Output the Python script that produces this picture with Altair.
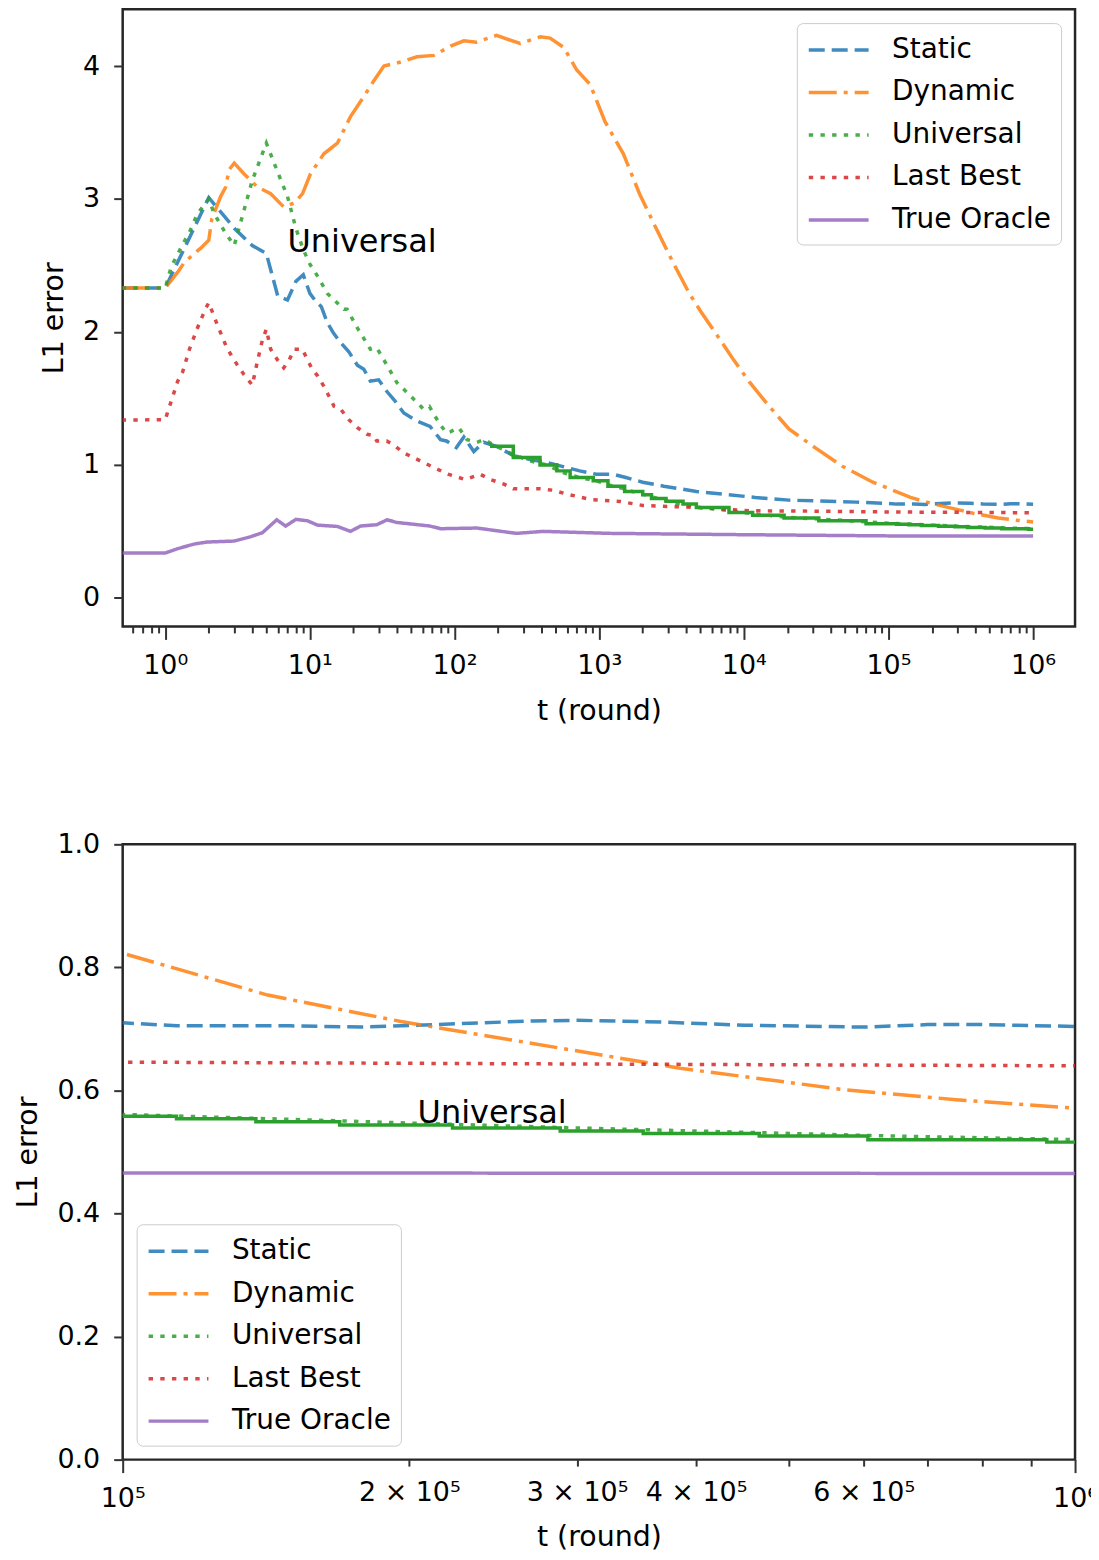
import altair as alt
import pandas as pd

# ---------------- data ----------------
SERIES = ["Static", "Dynamic", "Universal", "Last Best", "True Oracle"]
COLORS = ["#1f77b4", "#ff7f0e", "#2ca02c", "#d62728", "#9467bd"]
DASHES = [[16, 7], [28, 7, 4, 7], [4.4, 7.3], [4.4, 7.3], [1, 0]]
WIDTHS = [3.5, 3.5, 3.5, 3.5, 5]

STATIC = [(0.5, 2.33), (1, 2.33), (2, 3.01), (3, 2.78), (4, 2.65), (5, 2.59), (6, 2.27), (7, 2.24),
          (8, 2.38), (9, 2.43), (10, 2.29), (11, 2.23), (12, 2.19), (13.2, 2.07), (14.6, 1.99),
          (16.3, 1.92), (18.6, 1.85), (21.3, 1.75), (23.6, 1.72), (26.2, 1.63), (29.9, 1.64),
          (34.2, 1.55), (38.2, 1.49), (44.6, 1.39), (55, 1.33), (67.7, 1.29), (80, 1.19), (88, 1.18),
          (103, 1.13), (116, 1.21), (136, 1.10), (159, 1.17), (195, 1.14), (255, 1.07), (333, 1.04),
          (433, 1.02), (505, 1.00), (733, 0.955), (955, 0.93), (1250, 0.93), (1530, 0.905),
          (2000, 0.87), (2800, 0.84), (4700, 0.80), (7200, 0.78), (12000, 0.755), (20500, 0.735),
          (60000, 0.72), (1e5, 0.710), (1.14e5, 0.705), (1.5e5, 0.705), (1.78e5, 0.703),
          (2.12e5, 0.707), (2.7e5, 0.713), (3.0e5, 0.714), (3.7e5, 0.711), (4.5e5, 0.706),
          (6e5, 0.703), (7e5, 0.707), (8e5, 0.707), (1e6, 0.704)]

DYNAMIC = [(0.5, 2.33), (1, 2.33), (1.22, 2.45), (1.35, 2.52), (1.59, 2.59), (1.76, 2.63), (2, 2.69),
           (2.1, 2.85), (2.42, 3.02), (2.62, 3.09), (2.76, 3.22), (3, 3.27), (3.5, 3.19), (4.34, 3.09),
           (5.36, 3.04), (6.6, 2.94), (7.8, 2.97), (8.9, 3.04), (10.1, 3.19), (12.5, 3.34), (15.5, 3.42),
           (17.2, 3.52), (19.1, 3.62), (23.6, 3.77), (27.7, 3.89), (32.5, 4.00), (42.4, 4.03), (55, 4.07),
           (72, 4.08), (94, 4.15), (116, 4.19), (142, 4.18), (195, 4.23), (284, 4.17), (392, 4.22),
           (458, 4.21), (569, 4.14), (700, 3.97), (868, 3.86), (1100, 3.58), (1470, 3.34), (1900, 3.04),
           (2500, 2.77), (3250, 2.52), (4200, 2.29), (5000, 2.16), (6400, 1.99), (8500, 1.79),
           (11000, 1.62), (15000, 1.44), (20500, 1.27), (32000, 1.12), (48000, 0.99), (78000, 0.87),
           (1e5, 0.823), (1.42e5, 0.755), (1.96e5, 0.712), (3.17e5, 0.658), (3.85e5, 0.636),
           (5.74e5, 0.601), (7.5e5, 0.585), (1e6, 0.571)]

UNIVERSAL = [(0.5, 2.33), (1, 2.33), (1.1, 2.49), (1.28, 2.63), (1.5, 2.77), (1.67, 2.89), (2, 3.00),
             (2.18, 2.89), (2.62, 2.74), (3, 2.65), (4, 3.14), (5, 3.42), (6, 3.20), (7, 3.02), (8, 2.78),
             (9, 2.62), (10, 2.51), (11.3, 2.42), (13.2, 2.29), (17.2, 2.17), (18.1, 2.17), (21.3, 2.03),
             (26.2, 1.87), (29, 1.88), (33.3, 1.77), (39.9, 1.62), (49.5, 1.52), (61, 1.42), (67, 1.44),
             (72, 1.38), (80, 1.30), (88, 1.24), (94, 1.25), (107, 1.28), (122, 1.19), (143, 1.17),
             (160, 1.19), (195, 1.14), (241, 1.09), (268, 1.07), (333, 1.03), (433, 1.00), (569, 0.94),
             (733, 0.905), (955, 0.88), (1250, 0.84), (1530, 0.817), (1700, 0.80), (2500, 0.75),
             (3400, 0.71), (5000, 0.68), (8000, 0.655), (12000, 0.63), (20500, 0.605), (45000, 0.585),
             (1e5, 0.561), (1.5e5, 0.553), (2e5, 0.547), (3e5, 0.539), (4e5, 0.534), (6e5, 0.527),
             (8e5, 0.523), (1e6, 0.520)]

LAST_BEST = [(0.5, 1.337), (1, 1.34), (1.1, 1.48), (1.22, 1.63), (1.32, 1.70), (1.47, 1.87), (1.67, 2.03),
             (1.91, 2.18), (2, 2.22), (2.3, 2.05), (2.62, 1.90), (2.84, 1.83), (3.16, 1.75), (3.5, 1.68),
             (4, 1.60), (4.34, 1.78), (4.7, 1.94), (5, 2.02), (5.36, 1.87), (5.97, 1.79), (6.6, 1.73),
             (7.2, 1.79), (7.8, 1.87), (8.9, 1.87), (9.6, 1.79), (10.4, 1.72), (11.3, 1.67), (12.5, 1.59),
             (13.5, 1.52), (14.7, 1.44), (16.3, 1.42), (18.6, 1.34), (21.3, 1.28), (24.9, 1.23),
             (27.7, 1.22), (29, 1.18), (34, 1.18), (39, 1.14), (44.6, 1.09), (58, 1.03), (72, 0.98),
             (90, 0.93), (119, 0.89), (150, 0.93), (177, 0.89), (220, 0.855), (255, 0.82), (390, 0.82),
             (475, 0.81), (600, 0.78), (870, 0.74), (1400, 0.725), (2000, 0.695), (3400, 0.685),
             (4700, 0.68), (8000, 0.665), (11000, 0.655), (30000, 0.652), (1e5, 0.646), (3e5, 0.643),
             (1e6, 0.640)]

TRUE_ORACLE = [(0.5, 0.337), (1, 0.337), (1.22, 0.37), (1.59, 0.405), (1.96, 0.42), (3, 0.427),
               (3.9, 0.46), (4.7, 0.49), (5.9, 0.587), (6.8, 0.54), (8, 0.59), (9.6, 0.58), (11.3, 0.547),
               (15.5, 0.537), (19.1, 0.50), (22.4, 0.54), (29, 0.55), (34.2, 0.587), (39.9, 0.567),
               (67.7, 0.54), (80, 0.52), (143, 0.525), (195, 0.505), (268, 0.485), (410, 0.50),
               (1180, 0.485), (10000, 0.475), (1e5, 0.466), (1e6, 0.465)]

# solid green step line (no legend entry)
UNIVERSAL_STEP = [(176, 1.14), (255, 1.055), (390, 1.00), (510, 0.955), (630, 0.905), (910, 0.88),
                  (1150, 0.84), (1500, 0.80), (2000, 0.775), (2300, 0.747), (2900, 0.727), (3800, 0.705),
                  (4700, 0.68), (7900, 0.642), (11500, 0.622), (19000, 0.60), (33000, 0.58),
                  (70000, 0.558), (1.139e5, 0.554), (1.38e5, 0.549), (1.69e5, 0.544), (2.22e5, 0.539),
                  (2.88e5, 0.534), (3.52e5, 0.530), (4.66e5, 0.526), (6.06e5, 0.520), (9.34e5, 0.516),
                  (1e6, 0.516)]

ANNOT_TOP = [(7.0, 2.60, "Universal")]
ANNOT_BOTTOM = [(2.04e5, 0.547, "Universal")]

TOP_X_MAJOR = [1, 10, 100, 1000, 10000, 100000, 1000000]
TOP_X_LABELS = ["10⁰", "10¹", "10²", "10³", "10⁴", "10⁵", "10⁶"]
BOT_X_LABELED = [100000, 200000, 300000, 400000, 600000, 1000000]
BOT_X_LABELS = ["10⁵", "2 × 10⁵", "3 × 10⁵", "4 × 10⁵", "6 × 10⁵", "10⁶"]
BOT_X_MAJOR = [100000, 1000000]
TOP_Y_TICKS = [0, 1, 2, 3, 4]
BOT_Y_TICKS = [0.0, 0.2, 0.4, 0.6, 0.8, 1.0]

# ---------------- tables ----------------
rows = []
for name, pts in zip(SERIES, [STATIC, DYNAMIC, UNIVERSAL, LAST_BEST, TRUE_ORACLE]):
    for t, v in pts:
        rows.append({"t": t, "v": v, "series": name})
df = pd.DataFrame(rows)
df_step = pd.DataFrame(UNIVERSAL_STEP, columns=["t", "v"])

FONT = "DejaVu Sans"


def fmt(v):
    return repr(float(v))


def label_expr(vals, labels):
    parts = [f"datum.value == {fmt(v)} ? '{lab}'" for v, lab in zip(vals, labels)]
    return " : ".join(parts) + " : ''"


def major_test(vals):
    return " || ".join(f"datum.value == {fmt(v)}" for v in vals)


def minor_ticks(kmin, kmax, lo, hi):
    out = []
    for k in range(kmin, kmax + 1):
        for m in range(1, 10):
            val = round(m * 10.0 ** k, 6)
            if lo <= val <= hi:
                out.append(val)
    return out


def panel(xdomain, ydomain, xticks, xlab_vals, xlabs, xmajors, yticks, yfmt,
          legend_orient, h, annot, xtitle_pad):
    xaxis = alt.Axis(
        values=xticks, labelExpr=label_expr(xlab_vals, xlabs),
        tickSize={"condition": {"test": major_test(xmajors), "value": 13}, "value": 6.5},
        title="t (round)", labelFlush=False, labelOverlap=False, labelPadding=13,
        titlePadding=xtitle_pad,
    )
    yaxis = alt.Axis(values=yticks, format=yfmt, title="L1 error", tickSize=9,
                     labelPadding=14, titlePadding=14)
    x = alt.X("t:Q", scale=alt.Scale(type="log", domain=xdomain, nice=False), axis=xaxis)
    y = alt.Y("v:Q", scale=alt.Scale(domain=ydomain, nice=False, zero=False), axis=yaxis)
    leg = alt.Legend(orient=legend_orient, offset=14, title=None)
    lines = alt.Chart(df).mark_line(clip=True, opacity=0.85).encode(
        x=x, y=y,
        color=alt.Color("series:N", scale=alt.Scale(domain=SERIES, range=COLORS), legend=leg),
        strokeDash=alt.StrokeDash("series:N", scale=alt.Scale(domain=SERIES, range=DASHES), legend=leg),
        strokeWidth=alt.StrokeWidth("series:N", scale=alt.Scale(domain=SERIES, range=WIDTHS), legend=leg),
    )
    step = alt.Chart(df_step).mark_line(clip=True, interpolate="step-after", color="#2ca02c",
                                        strokeWidth=3.5).encode(x=x, y=y)
    adf = pd.DataFrame(annot, columns=["t", "v", "label"])
    text = alt.Chart(adf).mark_text(align="left", baseline="alphabetic", fontSize=32, font=FONT,
                                    color="#000000").encode(x=x, y=y, text="label:N")
    return alt.layer(lines, step, text).properties(width=955, height=h)


top = panel([0.508, 1.95e6], [-0.215, 4.428],
            TOP_X_MAJOR + minor_ticks(-1, 5, 0.508, 1.95e6), TOP_X_MAJOR, TOP_X_LABELS, TOP_X_MAJOR,
            TOP_Y_TICKS, "d", "top-right", 619, ANNOT_TOP, 18)
bottom = panel([1e5, 1e6], [0, 1],
               sorted(set(minor_ticks(5, 6, 1e5, 1e6))), BOT_X_LABELED, BOT_X_LABELS, BOT_X_MAJOR,
               BOT_Y_TICKS, ".1f", "bottom-left", 617, ANNOT_BOTTOM, 11)

chart = alt.vconcat(top, bottom, spacing=102.5).resolve_scale(
    x="independent", y="independent", color="independent",
    strokeDash="independent", strokeWidth="independent",
).properties(
    padding={"left": 4, "top": -3, "right": -8, "bottom": 0}
).configure(font=FONT).configure_view(
    stroke="#262626", strokeWidth=2.5
).configure_axis(
    labelFont=FONT, titleFont=FONT, labelFontSize=27, titleFontSize=28.5, labelColor="#000000",
    titleColor="#000000", titleFontWeight="normal", tickColor="#333333", tickWidth=2,
    domain=False, grid=False,
).configure_legend(
    labelFont=FONT, labelFontSize=28, labelColor="#000000", symbolType="M-1,0H3", symbolSize=900,
    labelOffset=51.5, padding=10, rowPadding=11.6, strokeColor="#cccccc",
    fillColor="rgba(255,255,255,0.8)", cornerRadius=6, symbolOpacity=0.85,
)

chart.save("out.html", embed_options={"renderer": "svg", "actions": False})
